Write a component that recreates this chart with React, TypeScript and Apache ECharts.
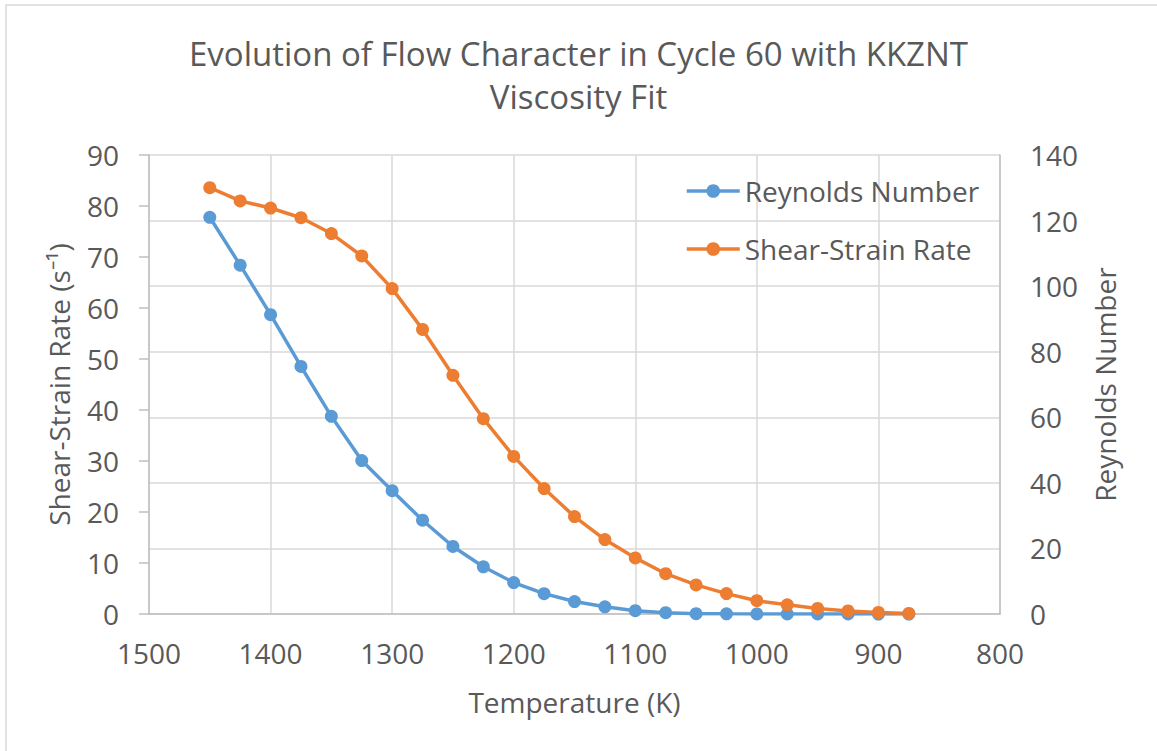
import React, { useEffect, useRef } from "react";
import * as echarts from "echarts";

const temperatures = [1450, 1425, 1400, 1375, 1350, 1325, 1300, 1275, 1250, 1225, 1200, 1175, 1150, 1125, 1100, 1075, 1050, 1025, 1000, 975, 950, 925, 900, 875];
const reynoldsNumber = [121.0, 106.4, 91.3, 75.5, 60.3, 46.8, 37.6, 28.6, 20.6, 14.4, 9.6, 6.2, 3.8, 2.2, 1.0, 0.4, 0.1, 0.05, 0.03, 0.02, 0.01, 0.01, 0.0, 0.0];
const shearStrainRate = [83.6, 81.0, 79.6, 77.7, 74.6, 70.2, 63.8, 55.8, 46.8, 38.3, 30.9, 24.6, 19.1, 14.6, 11.0, 7.9, 5.7, 4.0, 2.6, 1.8, 1.1, 0.6, 0.3, 0.1];

const titleText = "Evolution of Flow Character in Cycle 60 with KKZNT\nViscosity Fit";
const xName = "Temperature (K)";
const yLeftName = "Shear-Strain Rate (s⁻¹)";
const yRightName = "Reynolds Number";
const seriesNames = ["Reynolds Number", "Shear-Strain Rate"];

const FONT = "'Open Sans', sans-serif";
const TEXT = "#595959";
const GRID = "#D9D9D9";
const AXIS = "#BFBFBF";
const FS = 28;

export default function App() {
  const ref = useRef<HTMLDivElement>(null);
  useEffect(() => {
    if (!ref.current) return;
    const chart = echarts.init(ref.current, undefined, { renderer: "svg" });
    const zip = (vals: number[]) => temperatures.map((t, i) => [t, vals[i]]);
    chart.setOption({
      animation: false,
      backgroundColor: "#ffffff",
      textStyle: { fontFamily: FONT },
      title: {
        text: titleText,
        left: "center",
        top: 27,
        textStyle: { fontFamily: FONT, fontSize: 33, fontWeight: "normal", color: TEXT, lineHeight: 43 },
      },
      graphic: [
        {
          type: "rect",
          shape: { x: 6, y: 5, width: 1200, height: 800 },
          style: { fill: "none", stroke: GRID, lineWidth: 1.5 },
          silent: true,
        },
      ],
      legend: {
        orient: "vertical",
        left: 680,
        top: 172,
        itemWidth: 53,
        itemHeight: 17,
        itemGap: 30,
        lineStyle: { width: 3.5 },
        textStyle: { fontFamily: FONT, fontSize: FS, color: TEXT },
        data: seriesNames,
      },
      grid: { left: 149, right: 157, top: 155, bottom: 137, containLabel: false },
      xAxis: {
        type: "value",
        min: 800,
        max: 1500,
        interval: 100,
        inverse: true,
        name: xName,
        nameLocation: "middle",
        nameGap: 74,
        nameTextStyle: { fontFamily: FONT, fontSize: FS, color: TEXT },
        axisLine: { show: true, lineStyle: { color: AXIS, width: 1.5 } },
        axisTick: { show: false },
        axisLabel: { fontFamily: FONT, fontSize: FS, color: TEXT, margin: 25, formatter: (v: number) => String(v) },
        splitLine: { show: true, lineStyle: { color: GRID, width: 1.5 } },
      },
      yAxis: [
        {
          type: "value",
          position: "left",
          min: 0,
          max: 90,
          interval: 10,
          name: yLeftName,
          nameLocation: "middle",
          nameGap: 76,
          nameTextStyle: { fontFamily: FONT, fontSize: FS, color: TEXT },
          axisLine: { show: true, lineStyle: { color: AXIS, width: 1.5 } },
          axisTick: { show: true, inside: false, length: 10, lineStyle: { color: AXIS, width: 1.5 } },
          axisLabel: { fontFamily: FONT, fontSize: FS, color: TEXT, margin: 30 },
          splitLine: { show: false },
        },
        {
          type: "value",
          position: "right",
          min: 0,
          max: 140,
          interval: 20,
          name: yRightName,
          nameLocation: "middle",
          nameGap: 91,
          nameTextStyle: { fontFamily: FONT, fontSize: FS, color: TEXT },
          axisLine: { show: true, lineStyle: { color: AXIS, width: 1.5 } },
          axisTick: { show: false },
          axisLabel: { fontFamily: FONT, fontSize: FS, color: TEXT, margin: 30 },
          splitLine: { show: true, lineStyle: { color: GRID, width: 1.5 } },
        },
      ],
      series: [
        {
          name: seriesNames[0],
          type: "line",
          yAxisIndex: 1,
          data: zip(reynoldsNumber),
          symbol: "circle",
          symbolSize: 13,
          color: "#5B9BD5",
          lineStyle: { width: 3.5, color: "#5B9BD5" },
          itemStyle: { color: "#5B9BD5" },
        },
        {
          name: seriesNames[1],
          type: "line",
          yAxisIndex: 0,
          data: zip(shearStrainRate),
          symbol: "circle",
          symbolSize: 13,
          color: "#ED7D31",
          lineStyle: { width: 3.5, color: "#ED7D31" },
          itemStyle: { color: "#ED7D31" },
        },
      ],
    });
    return () => chart.dispose();
  }, []);
  return (
    <div
      ref={ref}
      style={{ position: "fixed", left: 0, top: 0, width: 1157, height: 751 }}
    />
  );
}
